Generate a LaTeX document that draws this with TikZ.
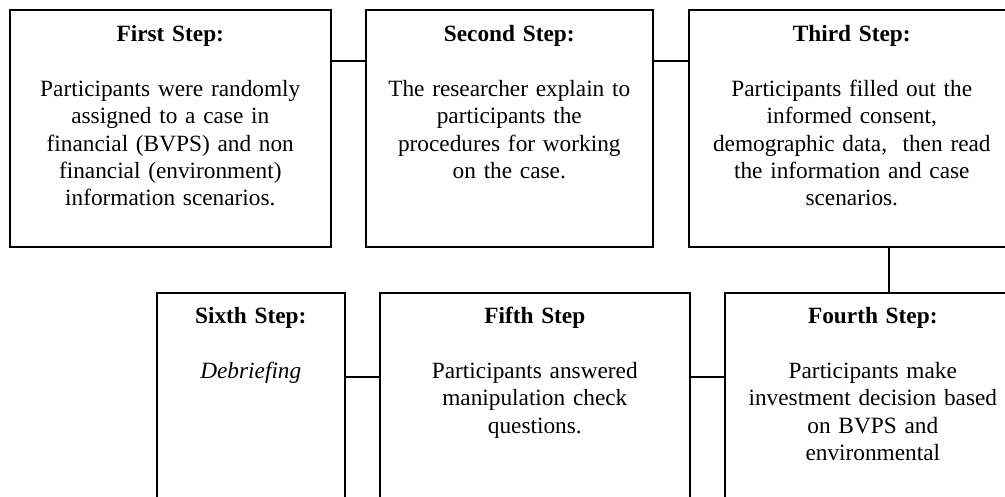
\documentclass[tikz,border=0pt]{standalone}
\usepackage{fontspec}
\setmainfont{Liberation Serif}

\begin{document}
\begin{tikzpicture}[x=1pt,y=-1pt,line width=1.6pt,
  stepbox/.style={draw,anchor=north west,inner sep=0pt,align=center,
    font=\fontsize{23.3pt}{27.3pt}\selectfont,text height=32pt,text depth=205pt}]
\useasboundingbox (0,0) rectangle (1005,496);
\fill[white] (0,0) rectangle (1005,496);
\clip (0,0) rectangle (1005,496);
% upper row
\node[stepbox,text width=321pt] (first) at (9,9) {\textbf{First Step:}\\[27.3pt]
  Participants were randomly\\ assigned to a case in\\ financial (BVPS) and non\\
  financial (environment)\\ information scenarios.};
\node[stepbox,text width=287pt] (second) at (365,9) {\textbf{Second Step:}\\[27.3pt]
  The researcher explain to\\ participants the\\ procedures for working\\ on the case.};
\node[stepbox,text width=326pt] (third) at (688,9) {\textbf{Third Step:}\\[27.3pt]
  Participants filled out the\\ informed consent,\\ demographic data,\ \ then read\\
  the information and case\\ scenarios.};
% lower row
\node[stepbox,text width=296pt,text height=31pt] (fourth) at (724,292) {\textbf{Fourth Step:}\\[27.3pt]
  Participants make\\ investment decision based\\ on BVPS and\\ environmental};
\node[stepbox,text width=310pt,text height=31pt] (fifth) at (379,292) {\textbf{Fifth Step}\\[27.3pt]
  Participants answered\\ manipulation check\\ questions.};
\node[stepbox,text width=188pt,text height=31pt] (sixth) at (156,292) {\textbf{Sixth Step:}\\[27.3pt]
  \textit{Debriefing}};
% connectors
\draw ([yshift=-52pt]first.north east) -- ([yshift=-52pt]second.north west);
\draw ([yshift=-52pt]second.north east) -- ([yshift=-52pt]third.north west);
\draw ([xshift=37pt]third.south) -- ([xshift=16pt]fourth.north);
\draw ([yshift=-85pt]fifth.north east) -- ([yshift=-85pt]fourth.north west);
\draw ([yshift=-85pt]sixth.north east) -- ([yshift=-85pt]fifth.north west);
\end{tikzpicture}
\end{document}
